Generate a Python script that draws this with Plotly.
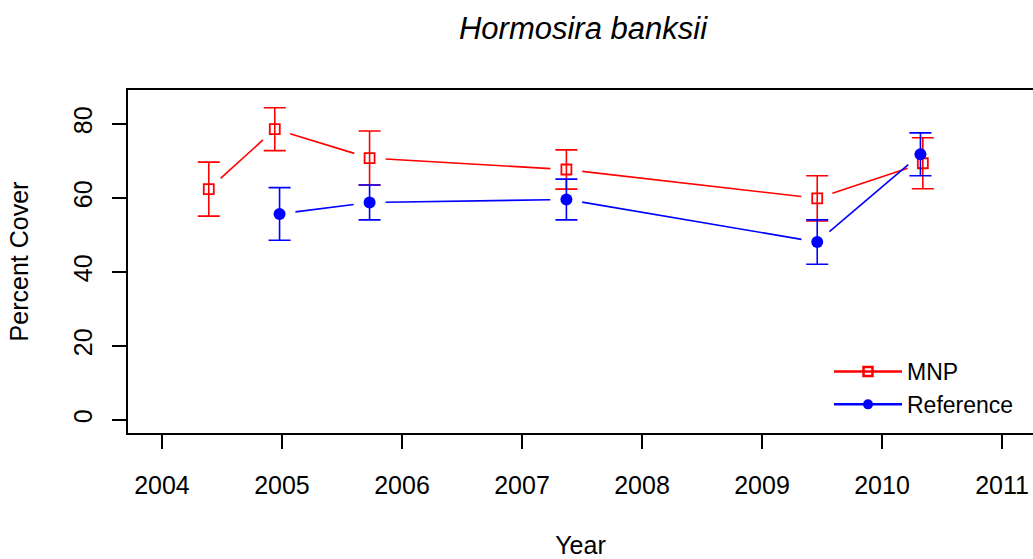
import math
import plotly.graph_objects as go

# ---- data ----
mnp_year = [2004.39, 2004.94, 2005.73, 2007.37, 2009.46, 2010.34]
mnp_cover = [62.4, 78.6, 70.8, 67.7, 59.9, 69.4]
mnp_err = [7.3, 5.8, 7.3, 5.3, 6.1, 6.9]

ref_year = [2004.98, 2005.73, 2007.37, 2009.46, 2010.32]
ref_cover = [55.7, 58.8, 59.6, 48.1, 71.8]
ref_err = [7.1, 4.7, 5.5, 6.0, 5.8]

x_ticks = [2004, 2005, 2006, 2007, 2008, 2009, 2010, 2011]
y_ticks = [0, 20, 40, 60, 80]

# ---- layout geometry ----
W, H = 1033, 559
ML, MR, MT, MB = 128, 0, 90, 126
XR = [2003.717, 2011.258]
YR = [-3.51, 89.19]
pw, ph = W - ML - MR, H - MT - MB
sx = pw / (XR[1] - XR[0])
sy = ph / (YR[1] - YR[0])
GAP = 16  # px gap around points (R type="b")


def gapped(xs, ys):
    gx, gy = [], []
    for i in range(len(xs) - 1):
        x0, y0 = xs[i] * sx, ys[i] * sy
        x1, y1 = xs[i + 1] * sx, ys[i + 1] * sy
        d = math.hypot(x1 - x0, y1 - y0)
        if d <= 2 * GAP:
            continue
        ux, uy = (x1 - x0) / d, (y1 - y0) / d
        gx += [(x0 + ux * GAP) / sx, (x1 - ux * GAP) / sx, None]
        gy += [(y0 + uy * GAP) / sy, (y1 - uy * GAP) / sy, None]
    return gx, gy


RED, BLUE = "#ff0000", "#0000ff"
fig = go.Figure()

for xs, ys, col in [(mnp_year, mnp_cover, RED), (ref_year, ref_cover, BLUE)]:
    gx, gy = gapped(xs, ys)
    fig.add_trace(go.Scatter(x=gx, y=gy, mode="lines", line=dict(color=col, width=1.6),
                             showlegend=False, hoverinfo="skip"))

fig.add_trace(go.Scatter(
    x=mnp_year, y=mnp_cover, mode="markers", showlegend=False,
    marker=dict(symbol="square-open", size=10, color=RED, line=dict(width=1.8, color=RED)),
    error_y=dict(type="data", array=mnp_err, color=RED, thickness=1.6, width=11)))
fig.add_trace(go.Scatter(
    x=ref_year, y=ref_cover, mode="markers", showlegend=False,
    marker=dict(symbol="circle", size=12, color=BLUE),
    error_y=dict(type="data", array=ref_err, color=BLUE, thickness=1.6, width=11)))

# legend entries
fig.add_trace(go.Scatter(x=[None], y=[None], mode="lines+markers", name="MNP",
                         line=dict(color=RED, width=2.5),
                         marker=dict(symbol="square-open", size=9, color=RED, line=dict(width=2.5, color=RED))))
fig.add_trace(go.Scatter(x=[None], y=[None], mode="lines+markers", name="Reference",
                         line=dict(color=BLUE, width=2.5),
                         marker=dict(symbol="circle", size=10, color=BLUE)))

FONT = "Liberation Sans, Arial, sans-serif"
fig.update_layout(
    width=W, height=H,
    margin=dict(l=ML, r=MR, t=MT, b=MB, pad=0),
    plot_bgcolor="white", paper_bgcolor="white",
    font=dict(family=FONT, size=25, color="black"),
    title=dict(text="<i>Hormosira banksii</i>", x=583 / W, xref="container",
               xanchor="center", y=1 - 28 / H, yref="container", yanchor="middle",
               font=dict(family=FONT, size=31, color="black")),
    showlegend=True,
    legend=dict(x=(829 - ML) / pw, xanchor="left", y=(433 - 350) / ph, yanchor="top",
                bgcolor="rgba(0,0,0,0)", font=dict(size=23), itemwidth=68,
                tracegroupgap=0),
    xaxis=dict(range=XR, tickvals=x_ticks, ticktext=[str(t) for t in x_ticks],
               showgrid=False, zeroline=False, showline=True, linecolor="black",
               linewidth=2, mirror=True, ticks="outside", ticklen=14, tickwidth=1.5,
               tickcolor="black", ticklabelstandoff=15,
               title=dict(text="Year", standoff=40, font=dict(size=25))),
    yaxis=dict(range=YR, tickvals=y_ticks, ticktext=[str(t) for t in y_ticks],
               showgrid=False, zeroline=False, showline=True, linecolor="black",
               linewidth=2, ticks="outside", ticklen=14, tickwidth=1.5, tickcolor="black",
               tickangle=-90, ticklabelstandoff=10,
               title=dict(text="Percent Cover", standoff=33, font=dict(size=25))),
)

fig.write_html("out.html", config={"displayModeBar": False},
               post_script="document.body.style.margin='0';document.body.style.overflow='hidden';")
